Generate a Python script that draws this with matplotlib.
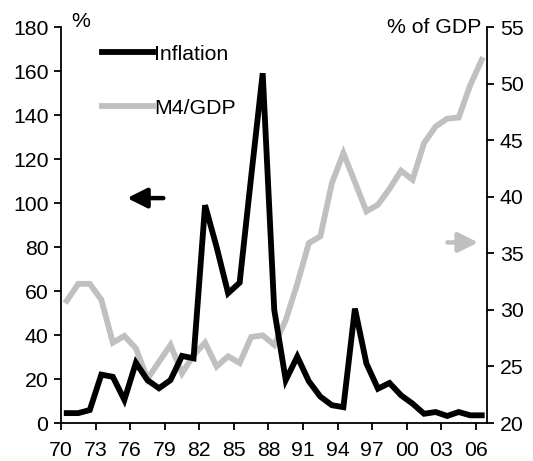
import matplotlib
matplotlib.use("Agg")
import matplotlib.pyplot as plt
import numpy as np

plt.rcParams['font.family'] = ['Liberation Sans', 'DejaVu Sans']

years = np.arange(1970, 2007)
inflation = [4.5, 4.5, 5.9, 22.0, 21.0, 10.5, 27.4, 19.5, 15.8, 19.5,
             30.5, 29.4, 99.0, 80.0, 59.0, 63.8, 112.0, 159.0, 51.5, 19.5,
             30.2, 19.0, 12.0, 8.1, 7.2, 52.0, 27.0, 15.6, 18.2, 12.6,
             8.8, 4.2, 5.0, 3.2, 5.0, 3.5, 3.5]
m4_gdp = [30.8, 32.3, 32.3, 30.9, 27.1, 27.7, 26.6, 23.9, 25.4, 26.9,
          24.4, 26.0, 27.1, 25.0, 25.9, 25.3, 27.6, 27.75, 26.9, 29.1,
          32.3, 35.9, 36.5, 41.2, 43.85, 41.3, 38.7, 39.3, 40.7, 42.3,
          41.5, 44.75, 46.2, 46.9, 47.0, 49.85, 52.1]
tick_years = np.arange(1970, 2007, 3)
tick_labels = [f"{y % 100:02d}" for y in tick_years]

black = '#000000'
grey = '#c0c0c0'
fs = 15.3

fig = plt.figure(figsize=(5.33, 4.61), dpi=100)
ax = fig.add_axes([0.1144, 0.0824, 0.8002, 0.8590])
ax2 = ax.twinx()

ln2, = ax2.plot(years, m4_gdp, color=grey, lw=4.2, solid_joinstyle='miter', label='M4/GDP')
ln1, = ax.plot(years, inflation, color=black, lw=4.2, solid_joinstyle='miter', label='Inflation')
ax.set_zorder(ax2.get_zorder() + 1)
ax.patch.set_visible(False)

ax.set_xlim(1969.5, 2006.5)
ax.set_ylim(0, 180)
ax2.set_ylim(20, 55)
ax.set_yticks(np.arange(0, 181, 20))
ax2.set_yticks(np.arange(20, 56, 5))
ax.set_xticks(tick_years - 0.5)
ax.set_xticklabels(tick_labels)

for a in (ax, ax2):
    a.spines['top'].set_visible(False)
    for s in a.spines.values():
        s.set_linewidth(1.3)
    a.tick_params(direction='out', length=5, width=1.3, labelsize=fs, pad=4)
ax.tick_params(axis='x', pad=8)
ax.spines['right'].set_visible(False)
ax2.spines['left'].set_visible(False)
ax2.spines['bottom'].set_visible(False)

ax.text(0.025, 1.014, '%', transform=ax.transAxes, fontsize=fs, ha='left', va='center')
ax2.text(0.986, 1.0, '% of GDP', transform=ax2.transAxes, fontsize=fs, ha='right', va='center')

ax.legend(handles=[ln1, ln2], loc='upper left', bbox_to_anchor=(0.097, 0.955),
          frameon=False, fontsize=fs, handlelength=2.4, handletextpad=0.05,
          labelspacing=1.65, borderaxespad=0, borderpad=0)

ax.annotate('', xy=(0.155, 0.568), xytext=(0.24, 0.568), xycoords='axes fraction',
            arrowprops=dict(arrowstyle='-|>,head_length=0.7,head_width=0.35', color=black,
                            lw=3.2, mutation_scale=17, shrinkA=0, shrinkB=0))
ax.annotate('', xy=(0.978, 0.456), xytext=(0.906, 0.456), xycoords='axes fraction',
            arrowprops=dict(arrowstyle='-|>,head_length=0.7,head_width=0.35', color=grey,
                            lw=3.2, mutation_scale=17, shrinkA=0, shrinkB=0))

fig.savefig('out.png', dpi=100)
